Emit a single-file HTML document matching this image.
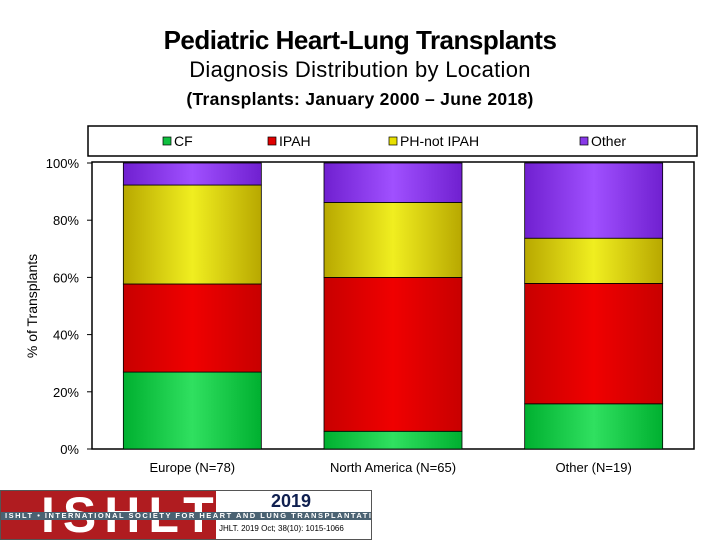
<!DOCTYPE html>
<html><head><meta charset="utf-8"><style>
body{margin:0;width:720px;height:540px;background:#fff;font-family:"Liberation Sans",sans-serif;position:relative;overflow:hidden}
.t{position:absolute;left:0;width:720px;text-align:center;color:#000;white-space:nowrap}
</style></head><body>
<div class="t" style="top:25px;font-size:26px;font-weight:bold;letter-spacing:-0.5px">Pediatric Heart-Lung Transplants</div>
<div class="t" style="top:57px;font-size:22px;letter-spacing:0.3px">Diagnosis Distribution by Location</div>
<div class="t" style="top:89px;font-size:17.5px;font-weight:bold;letter-spacing:0.3px">(Transplants: January 2000 – June 2018)</div>
<svg id="chart" width="720" height="540" style="position:absolute;left:0;top:0">
<defs>
<linearGradient id="gCF" x1="0" x2="1"><stop offset="0" stop-color="#00b030"/><stop offset="0.5" stop-color="#30e060"/><stop offset="1" stop-color="#00b030"/></linearGradient>
<linearGradient id="gIPAH" x1="0" x2="1"><stop offset="0" stop-color="#c80000"/><stop offset="0.5" stop-color="#f00000"/><stop offset="1" stop-color="#c80000"/></linearGradient>
<linearGradient id="gPH" x1="0" x2="1"><stop offset="0" stop-color="#b8a800"/><stop offset="0.5" stop-color="#f0ee20"/><stop offset="1" stop-color="#b8a800"/></linearGradient>
<linearGradient id="gOther" x1="0" x2="1"><stop offset="0" stop-color="#7020d0"/><stop offset="0.5" stop-color="#a050ff"/><stop offset="1" stop-color="#7020d0"/></linearGradient>
</defs>
</svg>
<div style="position:absolute;left:0;top:490px;width:372px;height:50px;border:1px solid #555;box-sizing:border-box;background:#fff;overflow:hidden">
<div style="position:absolute;left:0;top:0;width:215px;height:50px;background:#b01c20"></div>
<div style="position:absolute;left:40px;top:-2px;font-size:50px;font-weight:bold;color:#fff;letter-spacing:8px;line-height:52px">ISHLT</div>
<div style="position:absolute;left:0;top:21px;width:370px;height:8px;background:#4a6272;color:#fff;font-size:7.5px;font-weight:bold;line-height:8px;letter-spacing:1.5px;white-space:nowrap;padding-left:4px;box-sizing:border-box;overflow:hidden">ISHLT • INTERNATIONAL SOCIETY FOR HEART AND LUNG TRANSPLANTATION</div>
<div style="position:absolute;left:270px;top:0;font-size:18px;font-weight:bold;color:#102050">2019</div>
<div style="position:absolute;left:218px;top:33px;font-size:8px;color:#000">JHLT. 2019 Oct; 38(10): 1015-1066</div>
</div>
<script>
const categories=["Europe (N=78)","North America (N=65)","Other (N=19)"];
const seriesNames=["CF","IPAH","PH-not IPAH","Other"];
const cf=[26.9,6.2,15.8];
const ipah=[30.8,53.8,42.1];
const ph=[34.6,26.2,15.8];
const other=[7.7,13.8,26.3];
const yTicks=[0,20,40,60,80,100];
const NS="http://www.w3.org/2000/svg";
const svg=document.getElementById('chart');
const X0=92,X1=694,Y0=449,Y1=163;
const y=v=>Y0-(v/100)*(Y0-Y1);
const band=(X1-X0)/categories.length;
const bw=138;
const xc=i=>X0+band*(i+0.5);
function mk(tag,attrs){const e=document.createElementNS(NS,tag);for(const k in attrs)e.setAttribute(k,attrs[k]);svg.appendChild(e);return e;}
const lg=mk('rect',{x:88,y:126,width:609,height:30,fill:'#fff',stroke:'#000','stroke-width':1.5});


const fills=['url(#gCF)','url(#gIPAH)','url(#gPH)','url(#gOther)'];
const sw=['#10c040','#e00000','#e8e000','#8838e8'];
const lx=[163,268,389,580];
seriesNames.forEach((n,i)=>{
 const r=mk('rect',{x:lx[i],y:137,width:8,height:8,fill:sw[i],stroke:'#000','stroke-width':0.7});
 
 
 const t=mk('text',{x:lx[i]+11,y:146,'font-size':14,'font-family':'Liberation Sans, sans-serif'});
 t.textContent=n;
 
 
});
const pf=mk('rect',{x:X0,y:Y1-1,width:X1-X0,height:Y0-Y1+1,fill:'#fff',stroke:'#000','stroke-width':1.5});


yTicks.forEach(v=>{
 const t=mk('text',{x:79,y:y(v)+5,'text-anchor':'end','font-size':13,'font-family':'Liberation Sans, sans-serif'});
 t.textContent=v+'%';
 
 
 const l=mk('line',{x1:X0-5,x2:X0,y1:y(v),y2:y(v),stroke:'#000'});
 
 
});
const series=[cf,ipah,ph,other];
categories.forEach((c,i)=>{
 let acc=0;
 series.forEach((s,k)=>{
  const top=acc+s[i];
  const r=mk('rect',{x:xc(i)-bw/2,y:y(Math.min(top,100)),width:bw,height:y(acc)-y(Math.min(top,100)),fill:fills[k],stroke:'#000','stroke-width':0.8});
  
  
  acc=top;
 });
 const t=mk('text',{x:xc(i),y:472,'text-anchor':'middle','font-size':13,'font-family':'Liberation Sans, sans-serif'});
 t.textContent=c;
 
 
});
const yt=mk('text',{x:0,y:0,transform:'translate(37,306) rotate(-90)','text-anchor':'middle','font-size':14,'font-family':'Liberation Sans, sans-serif'});
yt.textContent='% of Transplants';


</script>
</body></html>
